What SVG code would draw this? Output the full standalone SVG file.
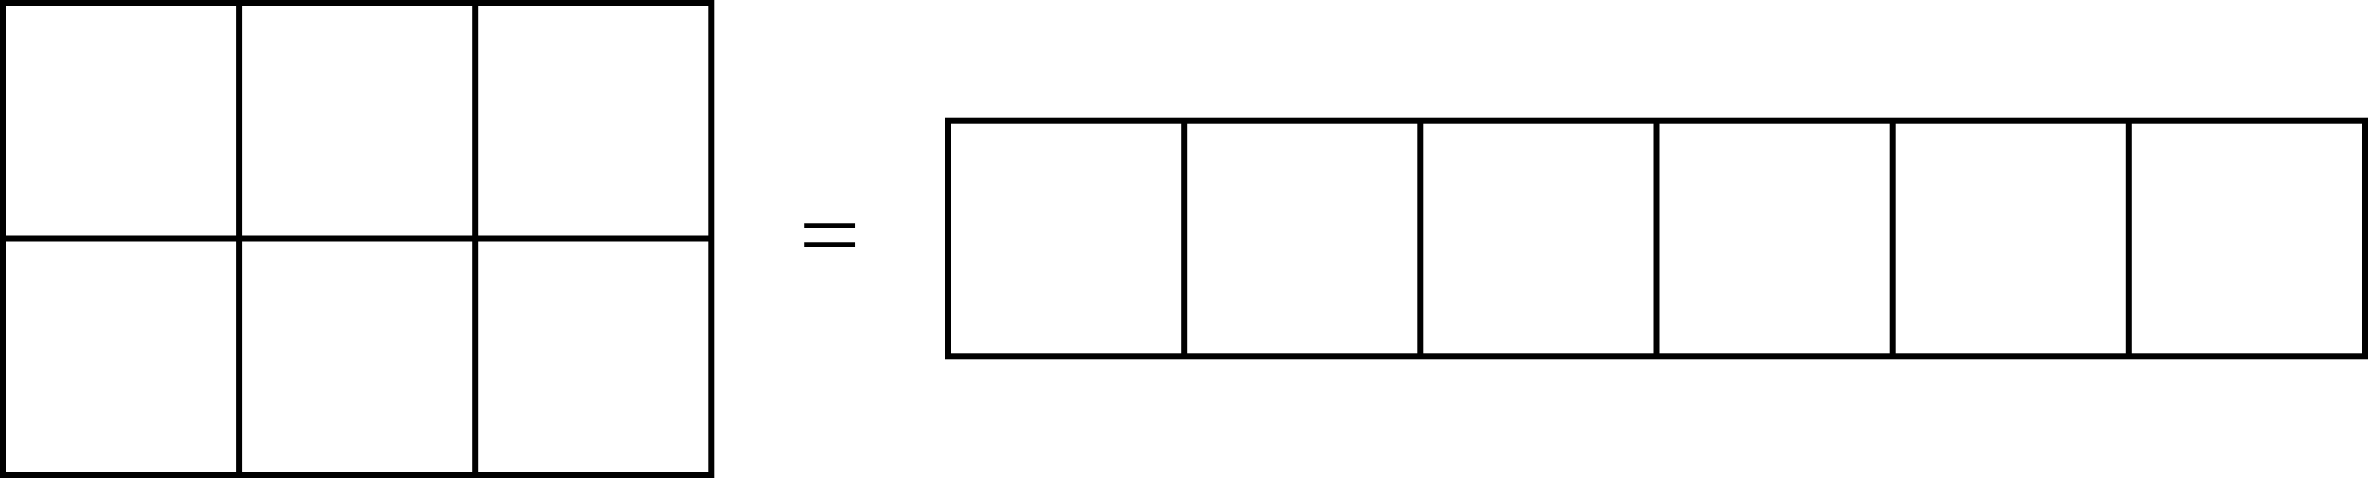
<svg xmlns="http://www.w3.org/2000/svg" width="2368" height="478" viewBox="0 0 2368 478">
<style>
.ln{fill:none;stroke:#000;stroke-width:6}
.eq{font-family:"Liberation Serif",serif;font-size:100px;fill:#000}
</style>
<rect width="2368" height="478" fill="#fff"/>
<g id="grid2x3">
<rect class="ln" x="3" y="3" width="708.3" height="472"/>
<line class="ln" x1="239.1" y1="3" x2="239.1" y2="475"/>
<line class="ln" x1="475.2" y1="3" x2="475.2" y2="475"/>
<line class="ln" x1="3" y1="238.5" x2="711.3" y2="238.5"/>
</g>
<g id="equals">
<text class="eq" transform="translate(798.7,266.9) scale(1.093,0.958)" x="0" y="0">=</text>
</g>
<g id="row1x6">
<rect class="ln" x="948" y="120.7" width="1417" height="235.6"/>
<line class="ln" x1="1184.2" y1="120.7" x2="1184.2" y2="356.3"/>
<line class="ln" x1="1420.3" y1="120.7" x2="1420.3" y2="356.3"/>
<line class="ln" x1="1656.5" y1="120.7" x2="1656.5" y2="356.3"/>
<line class="ln" x1="1892.7" y1="120.7" x2="1892.7" y2="356.3"/>
<line class="ln" x1="2128.8" y1="120.7" x2="2128.8" y2="356.3"/>
</g>
</svg>
